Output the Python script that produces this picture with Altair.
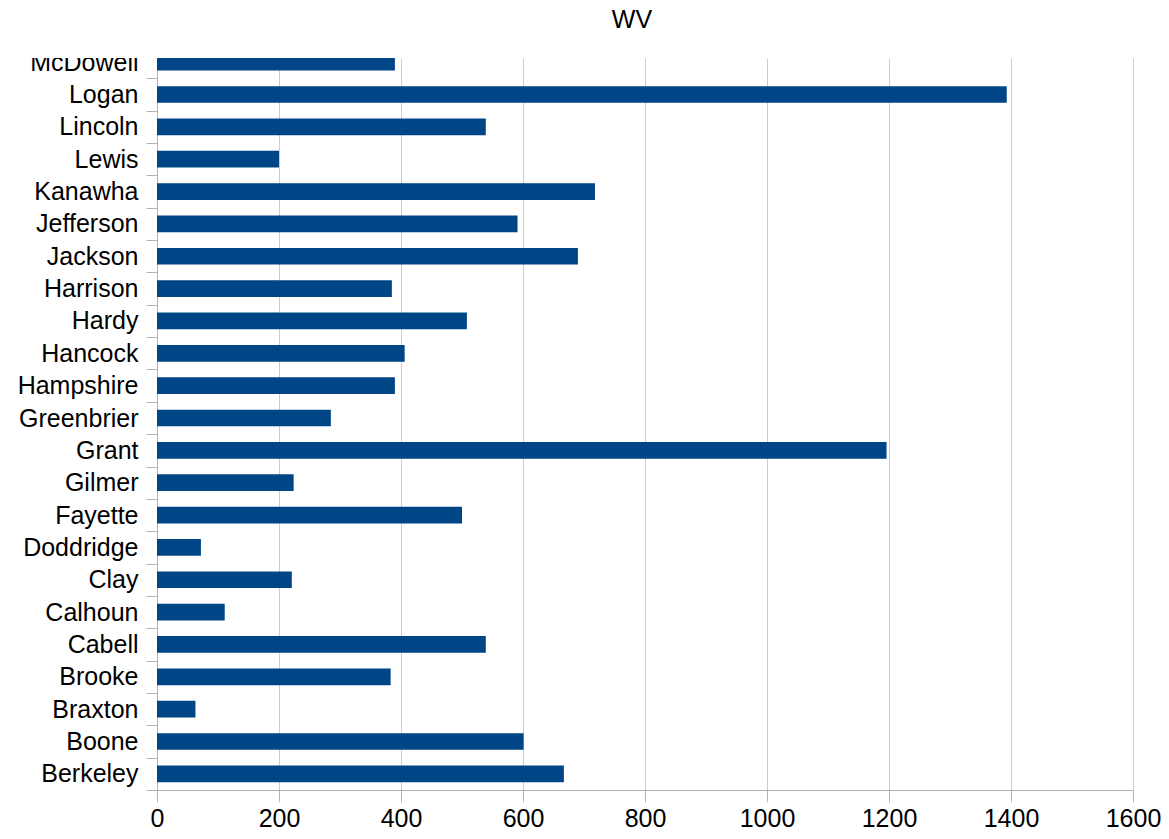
import altair as alt
import pandas as pd

# Data (top to bottom as shown)
counties = ["McDowell", "Logan", "Lincoln", "Lewis", "Kanawha", "Jefferson", "Jackson",
            "Harrison", "Hardy", "Hancock", "Hampshire", "Greenbrier", "Grant", "Gilmer",
            "Fayette", "Doddridge", "Clay", "Calhoun", "Cabell", "Brooke", "Braxton",
            "Boone", "Berkeley"]
values = [390, 1393, 539, 200, 718, 591, 690,
          385, 508, 406, 390, 285, 1196, 224,
          500, 72, 221, 111, 539, 383, 63,
          601, 667]
x_ticks = [0, 200, 400, 600, 800, 1000, 1200, 1400, 1600]
title_text = ["WV"]

df = pd.DataFrame({"county": counties, "value": values})
tdf = pd.DataFrame({"t": title_text})

FONT = "Liberation Sans"
BAR = "#004586"
AXIS_GREY = "#b3b3b3"
GRID_GREY = "#cccccc"

W, H = 976, 732

bars = alt.Chart(df).mark_bar(color=BAR, clip=True, height={"band": 0.516}).encode(
    x=alt.X("value:Q",
            scale=alt.Scale(domain=[0, 1600], nice=False, zero=True),
            axis=alt.Axis(values=x_ticks, format="d", title=None, grid=True,
                          gridColor=GRID_GREY, gridWidth=1, domainColor=AXIS_GREY,
                          tickColor=AXIS_GREY, tickSize=11, labelFont=FONT,
                          labelFontSize=25, labelColor="#000000", labelPadding=5,
                          zindex=0, labelFlush=False)),
    y=alt.Y("county:N", sort=counties,
            scale=alt.Scale(domain=counties, range=[-12, H],
                            paddingInner=0, paddingOuter=0),
            axis=alt.Axis(title=None, tickBand="extent", domainColor=AXIS_GREY,
                          tickColor=AXIS_GREY, tickSize=11, labelFont=FONT,
                          labelFontSize=25, labelColor="#000000", labelPadding=8,
                          zindex=0, grid=False)),
)

mask = alt.Chart(tdf).mark_rect(color="white", clip=False).encode(
    x=alt.value(-170), x2=alt.value(1), y=alt.value(-20), y2=alt.value(0)
)

title = alt.Chart(tdf).mark_text(font=FONT, fontSize=25, color="#000000",
                                 baseline="alphabetic", align="center").encode(
    text="t:N", x=alt.value(475), y=alt.value(-30)
)

chart = alt.layer(bars, mask, title).properties(
    width=W, height=H, autosize="none",
    padding={"left": 149, "top": 50, "right": 28, "bottom": 40},
    background="white",
).configure_view(stroke=None)

chart.save("out.html", embed_options={"renderer": "svg", "actions": False})
